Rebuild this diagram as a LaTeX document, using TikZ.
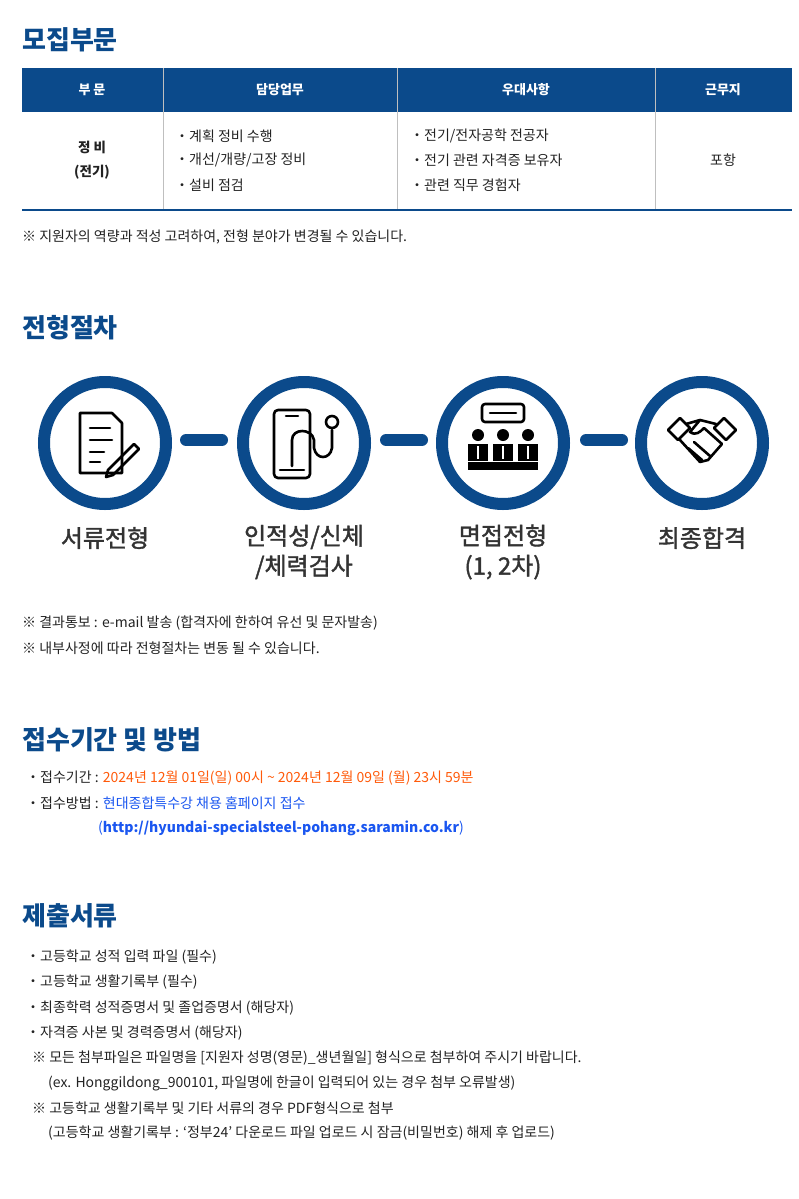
\documentclass[tikz,border=0pt]{standalone}
\usepackage{fontspec}
\setmainfont{Noto Sans CJK KR}
\newfontfamily\medfont[FakeBold=1.6]{Noto Sans CJK KR}
\usetikzlibrary{positioning}
\definecolor{navy}{HTML}{0B4A8B}
\definecolor{txt}{HTML}{222222}
\definecolor{step}{HTML}{333333}
\definecolor{hot}{HTML}{FF5A0A}
\definecolor{link}{HTML}{1A56F0}
\begin{document}
\begin{tikzpicture}[x=1pt,y=-1pt,
	head/.style={anchor=west,font=\fontsize{26}{28}\selectfont\bfseries,text=navy,inner sep=0},
	th/.style={font=\fontsize{13}{15}\selectfont\bfseries,text=white},
	body/.style={anchor=west,font=\fontsize{14}{16}\selectfont,text=txt,inner sep=0},
	ring/.style={circle,draw=navy,line width=12pt,minimum size=122pt,fill=white},
	steplabel/.style={font=\fontsize{24}{30}\selectfont\medfont,text=step,align=center},
	bar/.style={draw=navy,line width=12pt,line cap=round},
	ico/.style={line width=2.6pt,line join=round,line cap=round}]

	\useasboundingbox (0,0) rectangle (798,1199);

	% recruitment table
	\node[head] (h1) at (22,40) {모집부문};
	\fill[navy] (22,68) rectangle (792,112);
	\draw[gray!50] (163,68) -- (163,210) (397,68) -- (397,210) (655,68) -- (655,210);
	\draw[navy,line width=1.5pt] (22,210) -- (792,210);
	\node[th] (c1) at (92,90) {부 문};
	\node[th] (c2) at (280,90) {담당업무};
	\node[th] (c3) at (526,90) {우대사항};
	\node[th] (c4) at (723,90) {근무지};
	\node[font=\fontsize{13.5}{24}\selectfont\bfseries,text=txt,align=center] (part) at (92,160) {정 비\\(전기)};
	\node[body] (d1) at (175,136) {・계획 정비 수행};
	\node[body] (d2) at (175,160) {・개선/개량/고장 정비};
	\node[body] (d3) at (175,185) {・설비 점검};
	\node[body] (p1) at (410,136) {・전기/전자공학 전공자};
	\node[body] (p2) at (410,160) {・전기 관련 자격증 보유자};
	\node[body] (p3) at (410,185) {・관련 직무 경험자};
	\node[font=\fontsize{14}{16}\selectfont,text=txt] (loc) at (723,160) {포항};
	\node[body] (n1) at (22,237) {※ 지원자의 역량과 적성 고려하여, 전형 분야가 변경될 수 있습니다.};

	% selection steps
	\node[head] (h2) at (22,328) {전형절차};
	\draw[bar] (186,440) -- (222,440) (386,440) -- (422,440) (586,440) -- (622,440);
	\node[ring] (s1) at (105,443) {};
	\node[ring] (s2) at (304,443) {};
	\node[ring] (s3) at (503,443) {};
	\node[ring] (s4) at (702,443) {};
	% document icon
	\draw[ico] (80,413) -- (112,413) -- (122,423) -- (122,473) -- (80,473) -- cycle;
	\draw[ico] (90,428) -- (110,428) (90,440) -- (112,440) (90,452) -- (104,452) (90,462) -- (100,462);
	\draw[ico] (108,470) -- (134,444) -- (139,449) -- (113,475) -- (106,477) -- cycle;
	% phone + stethoscope icon
	\draw[ico,rounded corners=4pt] (274,410) rectangle (310,478);
	\draw[ico] (280,470) -- (304,470) (286,416) -- (298,416);
	\draw[ico] (292,466) -- (292,440) .. controls (292,428) and (312,428) .. (314,440) -- (314,448) .. controls (316,460) and (330,460) .. (332,448) -- (332,430);
	\draw[ico] (332,422) circle (6pt);
	% interview icon
	\draw[ico,rounded corners=3pt] (482,404) rectangle (524,422);
	\draw[ico] (490,413) -- (516,413);
	\fill[black] (468,462) rectangle (538,470);
	\foreach \px in {478,503,528} {
		\fill[black] (\px,435) circle (6pt);
		\fill[black] (\px-10,461) rectangle (\px+10,444);
		\fill[white] (\px-1,446) rectangle (\px+1,459);
	}
	% handshake icon
	\draw[ico] (668,430) -- (680,418) -- (690,428) -- (678,440) -- cycle;
	\draw[ico] (736,430) -- (724,418) -- (714,428) -- (726,440) -- cycle;
	\draw[ico] (686,424) -- (700,420) -- (716,424) (700,420) -- (690,432) .. controls (696,436) and (700,432) .. (704,428) -- (722,444);
	\draw[ico] (680,440) -- (700,462) -- (708,460) -- (722,444) (688,448) -- (702,460) (694,442) -- (710,456);
	\node[steplabel] (l1) at (105,538) {서류전형};
	\node[steplabel] (l2) at (304,552) {인적성/신체\\/체력검사};
	\node[steplabel] (l3) at (503,552) {면접전형\\(1, 2차)};
	\node[steplabel] (l4) at (702,538) {최종합격};
	\node[body] (n2) at (22,623) {※ 결과통보 : e-mail 발송 (합격자에 한하여 유선 및 문자발송)};
	\node[body] (n3) at (22,648) {※ 내부사정에 따라 전형절차는 변동 될 수 있습니다.};

	% application
	\node[head] (h3) at (22,740) {접수기간 및 방법};
	\node[body] (a1) at (26,778) {・접수기간 : \textcolor{hot}{2024년 12월 01일(일) 00시 \textasciitilde{} 2024년 12월 09일 (월) 23시 59분}};
	\node[body] (a2) at (26,803) {・접수방법 : \textcolor{link}{현대종합특수강 채용 홈페이지 접수}};
	\node[body] (a3) at (98,828) {\textcolor{link}{(\textbf{http://hyundai-specialsteel-pohang.saramin.co.kr})}};

	% documents
	\node[head] (h4) at (22,916) {제출서류};
	\node[body] (f1) at (26,957) {・고등학교 성적 입력 파일 (필수)};
	\node[body] (f2) at (26,982) {・고등학교 생활기록부 (필수)};
	\node[body] (f3) at (26,1008) {・최종학력 성적증명서 및 졸업증명서 (해당자)};
	\node[body] (f4) at (26,1033) {・자격증 사본 및 경력증명서 (해당자)};
	\node[body] (f5) at (32,1058) {※ 모든 첨부파일은 파일명을 [지원자 성명(영문)\_생년월일] 형식으로 첨부하여 주시기 바랍니다.};
	\node[body] (f6) at (48,1083) {(ex. Honggildong\_900101, 파일명에 한글이 입력되어 있는 경우 첨부 오류발생)};
	\node[body] (f7) at (32,1108) {※ 고등학교 생활기록부 및 기타 서류의 경우 PDF형식으로 첨부};
	\node[body] (f8) at (48,1133) {(고등학교 생활기록부 : ‘정부24’ 다운로드 파일 업로드 시 잠금(비밀번호) 해제 후 업로드)};
\end{tikzpicture}
\end{document}
